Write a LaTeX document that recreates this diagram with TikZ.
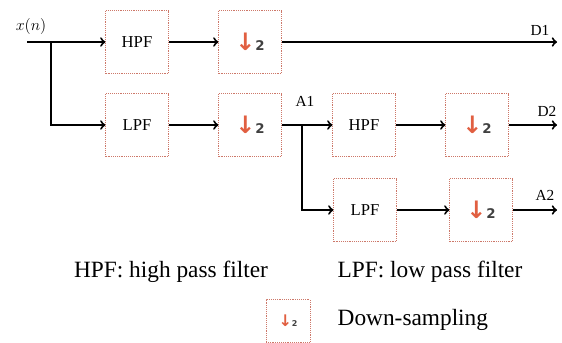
\documentclass[tikz,border=0pt]{standalone}
\usepackage{fontspec}
\setmainfont{Liberation Serif}
\newfontfamily\symfont{DejaVu Sans}
\usepackage{xcolor}
\usepackage{tikz}
\definecolor{boxred}{RGB}{205,120,105}
\definecolor{arrowred}{RGB}{225,95,65}
\tikzstyle{filterbox}=[
    rectangle,
    draw=boxred,
    densely dotted,
    text centered,
    text=black,
    minimum width=47pt,
    minimum height=47pt,
    font=\fontsize{12.5}{14}\selectfont]
\tikzstyle{flow}=[->, >=to, line width=1.5pt]
\tikzstyle{signame}=[font=\fontsize{11.5}{13}\selectfont]
\tikzstyle{note}=[font=\fontsize{17.5}{20}\selectfont]
% down-sampling mark: arrow size, digit size
\newcommand{\dsmark}[2]{{\symfont\bfseries\fontsize{#1}{#1}\selectfont\textcolor{arrowred}{↓}}{\symfont\bfseries\fontsize{#2}{#2}\selectfont\textcolor{darkgray}{2}}}

\begin{document}
\begin{tikzpicture}[x=0.75pt, y=-0.75pt]
    \useasboundingbox (0,0) rectangle (562,343);

    % first level
    \node[filterbox] (hpf1) at (137,42) {HPF};
    \node[filterbox] (ds1) at (250,42) {\dsmark{18}{10}};
    \node[filterbox] (lpf1) at (137,125) {LPF};
    \node[filterbox] (ds2) at (250,125) {\dsmark{18}{10}};

    % second level
    \node[filterbox] (hpf2) at (364,125) {HPF};
    \node[filterbox] (ds3) at (477,125) {\dsmark{18}{10}};
    \node[filterbox] (lpf2) at (365,210) {LPF};
    \node[filterbox] (ds4) at (481,210) {\dsmark{18}{10}};

    \coordinate (xin) at (27,42);
    \coordinate (split1) at (51,42);
    \coordinate (split2) at (302,125);
    \coordinate (d1out) at (557,42);
    \coordinate (d2out) at (557,125);
    \coordinate (a2out) at (557,210);

    \node[font=\fontsize{13}{15}\selectfont] (xn) at (31,26) {$x(n)$};
    \node[signame] (d1) at (540,30) {D1};
    \node[signame] (a1) at (305,101) {A1};
    \node[signame] (d2) at (547,111) {D2};
    \node[signame] (a2) at (545,195) {A2};

    \draw[flow] (xin) -- (hpf1);
    \draw[flow] (split1) |- (lpf1);
    \draw[flow] (hpf1) -- (ds1);
    \draw[flow] (ds1) -- (d1out);
    \draw[flow] (lpf1) -- (ds2);
    \draw[flow] (ds2) -- (hpf2);
    \draw[flow] (split2) |- (lpf2);
    \draw[flow] (hpf2) -- (ds3);
    \draw[flow] (ds3) -- (d2out);
    \draw[flow] (lpf2) -- (ds4);
    \draw[flow] (ds4) -- (a2out);

    % legend
    \node[note] (hpfnote) at (171,272) {HPF: high pass filter};
    \node[note] (lpfnote) at (430,272) {LPF: low pass filter};
    \node[filterbox, minimum width=33pt, minimum height=32pt] (dsbox) at (288,321) {\dsmark{12}{6}};
    \node[note, anchor=west] (dsnote) at (333,320) {Down-sampling};
\end{tikzpicture}
\end{document}
